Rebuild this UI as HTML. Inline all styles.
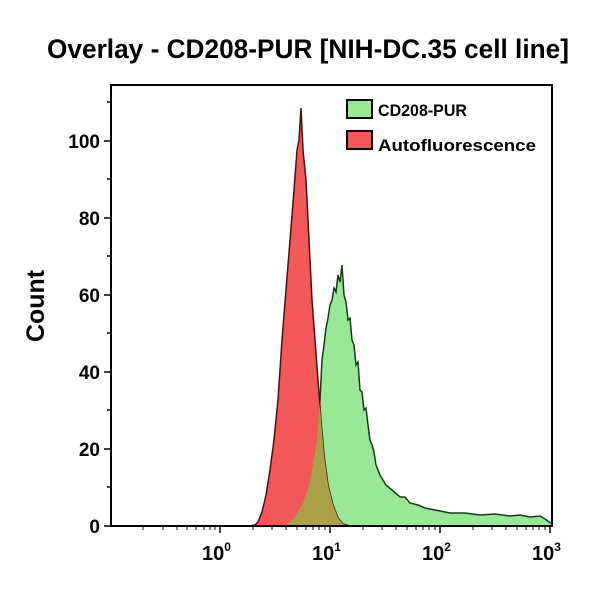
<!DOCTYPE html>
<html><head><meta charset="utf-8"><style>body{margin:0;background:#fff}svg{display:block}</style></head>
<body>
<svg width="600" height="600" xmlns="http://www.w3.org/2000/svg" font-family="Liberation Sans, Arial, sans-serif" font-weight="bold">
<defs>
<clipPath id="gc"><path d="M285,526 L290,522 296,515 302,505 308,490 313,465 317,440 320,400 323,350 327,320 331,300 335,290 338,275 342,265 345,300 348,320 352,340 356,365 360,390 364,410 368,425 372,445 376,465 380,475 386,485 392,490 400,497 410,503 425,508 450,513 480,515 510,516 530,517 545,519 552,524 552,526 Z"/></clipPath>
</defs>
<text x="47" y="58" font-size="27" textLength="522" lengthAdjust="spacingAndGlyphs">Overlay - CD208-PUR [NIH-DC.35 cell line]</text>
<text transform="translate(44,306) rotate(-90)" font-size="25" text-anchor="middle" textLength="72" lengthAdjust="spacingAndGlyphs">Count</text>
<path d="M285,526 L290,522 296,515 302,505 308,490 313,465 317,440 320,400 322,360 324,345 326,328 328,318 330,305 332,300 334,288 336,292 338,275 340,282 342,265 344,295 346,302 348,320 350,318 352,340 354,345 356,365 358,362 360,390 362,392 364,410 366,408 368,425 370,440 372,445 374,452 376,465 380,475 386,485 392,490 400,497 405,497 410,503 418,505 425,508 435,510 450,513 465,513 480,515 495,514 510,516 520,515 530,517 540,516 545,519 552,524 552,526 Z" fill="#98e898" stroke="#1a3a1a" stroke-width="1.5"/>
<path d="M250,526 L255,525 258,522 262,512 266,495 270,470 274,440 278,400 282,340 286,290 290,240 294,190 297,150 299,140 301,108 303,150 306,180 309,240 312,300 315,340 318,380 321,420 324,455 328,485 333,505 338,518 343,524 350,526 Z" fill="#f25858" stroke="#4a1010" stroke-width="1.5"/>
<path d="M250,526 L255,525 258,522 262,512 266,495 270,470 274,440 278,400 282,340 286,290 290,240 294,190 297,150 299,140 301,108 303,150 306,180 309,240 312,300 315,340 318,380 321,420 324,455 328,485 333,505 338,518 343,524 350,526 Z" fill="#a9a048" clip-path="url(#gc)"/>
<rect x="111" y="85" width="441" height="441" fill="none" stroke="#000" stroke-width="2"/>
<g stroke="#000" stroke-width="1.5">
<line x1="104" y1="526" x2="111" y2="526"/><line x1="104" y1="449" x2="111" y2="449"/><line x1="104" y1="372" x2="111" y2="372"/><line x1="104" y1="295" x2="111" y2="295"/><line x1="104" y1="218" x2="111" y2="218"/><line x1="104" y1="141" x2="111" y2="141"/>
<line x1="107" y1="487" x2="111" y2="487"/><line x1="107" y1="410" x2="111" y2="410"/><line x1="107" y1="333" x2="111" y2="333"/><line x1="107" y1="256" x2="111" y2="256"/><line x1="107" y1="179" x2="111" y2="179"/><line x1="107" y1="102" x2="111" y2="102"/>
<line x1="220" y1="526" x2="220" y2="533"/><line x1="330" y1="526" x2="330" y2="533"/><line x1="440" y1="526" x2="440" y2="533"/><line x1="550" y1="526" x2="550" y2="533"/>
</g>
<g stroke="#000" stroke-width="1">
<line x1="143" y1="526" x2="143" y2="530"/><line x1="163" y1="526" x2="163" y2="530"/><line x1="177" y1="526" x2="177" y2="530"/><line x1="187" y1="526" x2="187" y2="530"/><line x1="196" y1="526" x2="196" y2="530"/><line x1="204" y1="526" x2="204" y2="530"/><line x1="210" y1="526" x2="210" y2="530"/><line x1="215" y1="526" x2="215" y2="530"/>
<line x1="253" y1="526" x2="253" y2="530"/><line x1="272" y1="526" x2="272" y2="530"/><line x1="286" y1="526" x2="286" y2="530"/><line x1="297" y1="526" x2="297" y2="530"/><line x1="306" y1="526" x2="306" y2="530"/><line x1="313" y1="526" x2="313" y2="530"/><line x1="319" y1="526" x2="319" y2="530"/><line x1="325" y1="526" x2="325" y2="530"/>
<line x1="363" y1="526" x2="363" y2="530"/><line x1="382" y1="526" x2="382" y2="530"/><line x1="396" y1="526" x2="396" y2="530"/><line x1="407" y1="526" x2="407" y2="530"/><line x1="416" y1="526" x2="416" y2="530"/><line x1="423" y1="526" x2="423" y2="530"/><line x1="429" y1="526" x2="429" y2="530"/><line x1="435" y1="526" x2="435" y2="530"/>
<line x1="473" y1="526" x2="473" y2="530"/><line x1="492" y1="526" x2="492" y2="530"/><line x1="506" y1="526" x2="506" y2="530"/><line x1="517" y1="526" x2="517" y2="530"/><line x1="526" y1="526" x2="526" y2="530"/><line x1="533" y1="526" x2="533" y2="530"/><line x1="539" y1="526" x2="539" y2="530"/><line x1="545" y1="526" x2="545" y2="530"/>
</g>
<g font-size="19" text-anchor="end">
<text x="100" y="533">0</text><text x="100" y="456">20</text><text x="100" y="379">40</text><text x="100" y="302">60</text><text x="100" y="225">80</text><text x="100" y="148">100</text>
</g>
<g font-size="20">
<text x="202" y="560">10<tspan font-size="12" dy="-9">0</tspan></text>
<text x="312" y="560">10<tspan font-size="12" dy="-9">1</tspan></text>
<text x="422" y="560">10<tspan font-size="12" dy="-9">2</tspan></text>
<text x="532" y="560">10<tspan font-size="12" dy="-9">3</tspan></text>
</g>
<rect x="347" y="100" width="25" height="18" fill="#98e898" stroke="#000" stroke-width="2"/>
<rect x="347" y="131" width="25" height="18" fill="#f25858" stroke="#000" stroke-width="2"/>
<text x="378" y="116" font-size="17" textLength="89" lengthAdjust="spacingAndGlyphs">CD208-PUR</text>
<text x="378" y="151" font-size="17" textLength="158" lengthAdjust="spacingAndGlyphs">Autofluorescence</text>
</svg>
</body></html>
